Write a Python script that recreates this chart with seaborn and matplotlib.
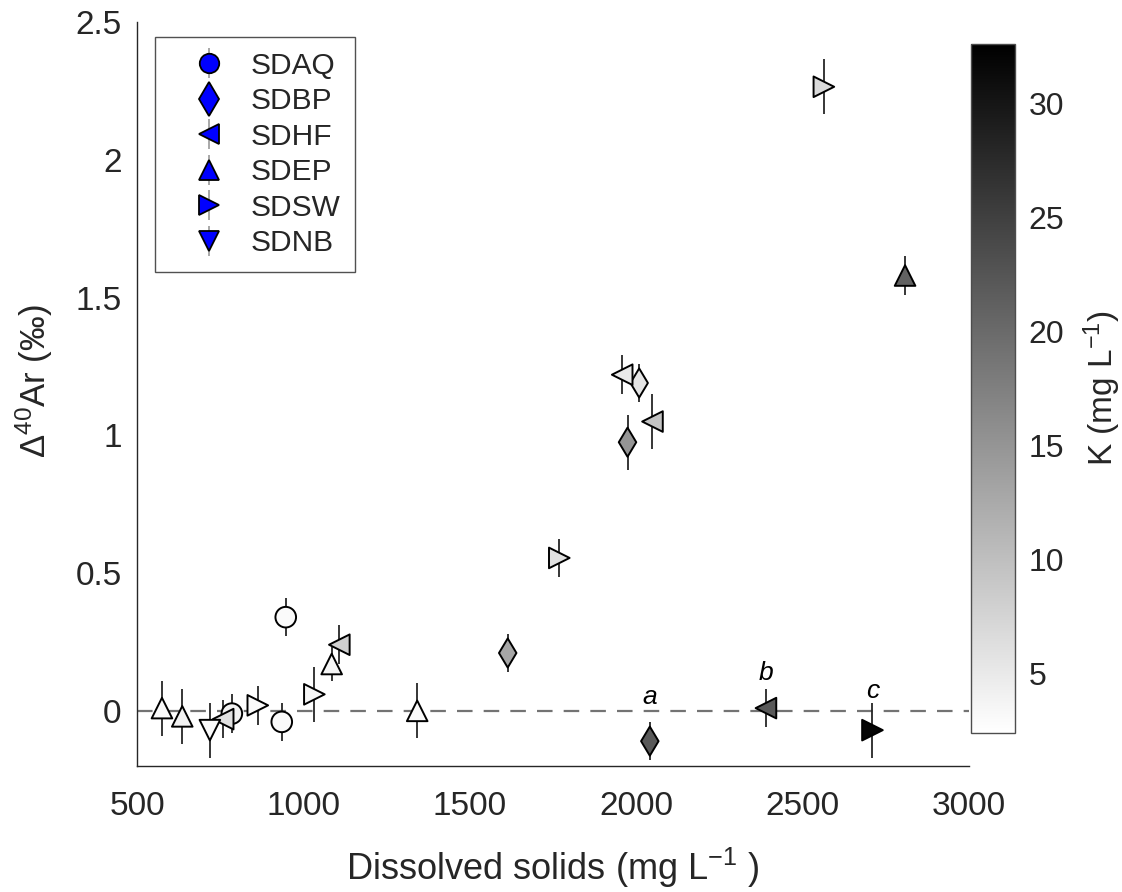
import numpy as np
import pandas as pd
import matplotlib
matplotlib.use('Agg')
import matplotlib.pyplot as plt
import seaborn as sns
from matplotlib.colors import LinearSegmentedColormap, Normalize
from matplotlib.cm import ScalarMappable
from matplotlib.lines import Line2D
from matplotlib.legend_handler import HandlerTuple

# sites and their marker shapes
sites = ['SDAQ', 'SDBP', 'SDHF', 'SDEP', 'SDSW', 'SDNB']
site_markers = ['o', 'd', '<', '^', '>', 'v']

# one entry per sample
site = (['SDAQ'] * 3 + ['SDBP'] * 4 + ['SDHF'] * 5 +
        ['SDEP'] * 5 + ['SDSW'] * 5 + ['SDNB'])
tds = [785, 935, 947,
       1614, 1974, 2009, 2041,
       759, 1108, 1958, 2049, 2390,
       575, 636, 1085, 1342, 2808,
       863, 1033, 1769, 2564, 2710,
       719]
d40ar = [-0.01, -0.04, 0.34,
         0.21, 0.975, 1.19, -0.11,
         -0.03, 0.24, 1.22, 1.05, 0.01,
         0.01, -0.02, 0.17, 0.0, 1.58,
         0.02, 0.06, 0.555, 2.265, -0.07,
         -0.07]
d40ar_err = [0.07, 0.07, 0.07,
             0.07, 0.1, 0.07, 0.07,
             0.07, 0.07, 0.07, 0.1, 0.07,
             0.1, 0.1, 0.06, 0.1, 0.07,
             0.07, 0.1, 0.07, 0.1, 0.1,
             0.1]
k_conc = [4.0, 3.0, 3.0,
          13.0, 15.0, 5.5, 22.0,
          6.0, 8.0, 5.0, 9.5, 22.0,
          3.0, 4.0, 3.5, 3.0, 21.0,
          3.0, 3.5, 6.0, 7.0, 32.0,
          3.0]

# letters annotating three samples: (sample index, offset in points)
notes = ['a', 'b', 'c']
note_idx = [6, 11, 21]
note_dy = [32, 25, 28]

k_min, k_max = 2.4, 32.6

df = pd.DataFrame({'site': site, 'tds': tds, 'd40ar': d40ar,
                   'err': d40ar_err, 'K': k_conc})

sns.set_style('white')
plt.rcParams['font.family'] = ['Liberation Sans', 'DejaVu Sans']
plt.rcParams['mathtext.fontset'] = 'custom'
plt.rcParams['mathtext.rm'] = 'Liberation Sans'
plt.rcParams['mathtext.it'] = 'Liberation Sans:italic'

txt = '#262626'
cmap = LinearSegmentedColormap.from_list('white_black', ['white', 'black'])
norm = Normalize(k_min, k_max)

fig = plt.figure(figsize=(11.22, 8.92), dpi=100)
ax = fig.add_axes([0.1221, 0.1413, 0.7415, 0.834])
cax = fig.add_axes([0.8654, 0.1783, 0.0392, 0.7724])

ax.axhline(0, color='0.45', lw=1.6, dashes=(7, 5), zorder=1)
ax.errorbar(df['tds'], df['d40ar'], yerr=df['err'], fmt='none',
            ecolor='0.15', elinewidth=1.3, capsize=0, zorder=2)
sns.scatterplot(data=df, x='tds', y='d40ar', hue='K', style='site',
                markers=dict(zip(sites, site_markers)), style_order=sites,
                palette=cmap, hue_norm=norm, s=220, edgecolor='black',
                linewidth=1.4, legend=False, ax=ax, zorder=3)

for lab, i, dy in zip(notes, note_idx, note_dy):
    ax.annotate(lab, (tds[i], d40ar[i]), xytext=(0, dy), textcoords='offset points',
                ha='center', va='center', fontsize=19, style='italic', color='black')

ax.set_xlim(500, 3000)
ax.set_ylim(-0.2, 2.5)
ax.set_xticks([500, 1000, 1500, 2000, 2500, 3000])
ax.set_yticks([0, 0.5, 1, 1.5, 2, 2.5])
ax.set_yticklabels(['0', '0.5', '1', '1.5', '2', '2.5'])
for s in ['top', 'right']:
    ax.spines[s].set_visible(False)
for s in ['left', 'bottom']:
    ax.spines[s].set_color(txt)
    ax.spines[s].set_linewidth(1.0)
ax.tick_params(direction='in', length=7, width=1, colors=txt, labelsize=24)
ax.tick_params(axis='x', pad=18)
ax.tick_params(axis='y', pad=11)
ax.set_xlabel('Dissolved solids (mg L$^{-1}$ )', fontsize=26, color=txt, labelpad=17)
ax.set_ylabel(r'$\Delta^{40}$Ar (‰)', fontsize=25, color=txt)
ax.yaxis.set_label_coords(-0.0986, 0.517)

# legend with blue markers and a grey error stroke
handles = []
for m in site_markers:
    bar = Line2D([], [], marker='|', color='0.6', markersize=22, mew=1.2, linestyle='none')
    mk = Line2D([], [], marker=m, markerfacecolor='blue', markeredgecolor='black',
                markersize=14 if m != 'd' else 17, mew=1.3, linestyle='none')
    handles.append((bar, mk))
leg = ax.legend(handles, sites, handler_map={tuple: HandlerTuple(ndivide=1)},
                loc='upper left', bbox_to_anchor=(0.0216, 0.98), borderaxespad=0,
                fontsize=21.5, frameon=True, fancybox=False, labelspacing=0.25,
                handlelength=2.6, handletextpad=0.1, borderpad=0.5)
leg.get_frame().set_edgecolor(txt)
leg.get_frame().set_linewidth(1.0)

cb = fig.colorbar(ScalarMappable(norm=norm, cmap=cmap), cax=cax)
cb.set_ticks([5, 10, 15, 20, 25, 30])
cb.outline.set_edgecolor('0.3')
cb.outline.set_linewidth(1.0)
cax.tick_params(direction='in', length=6, width=1, colors=txt, labelsize=23, pad=10)
cb.set_label('K (mg L$^{-1}$)', fontsize=24, color=txt, labelpad=12)

fig.savefig('out.png', dpi=100)
